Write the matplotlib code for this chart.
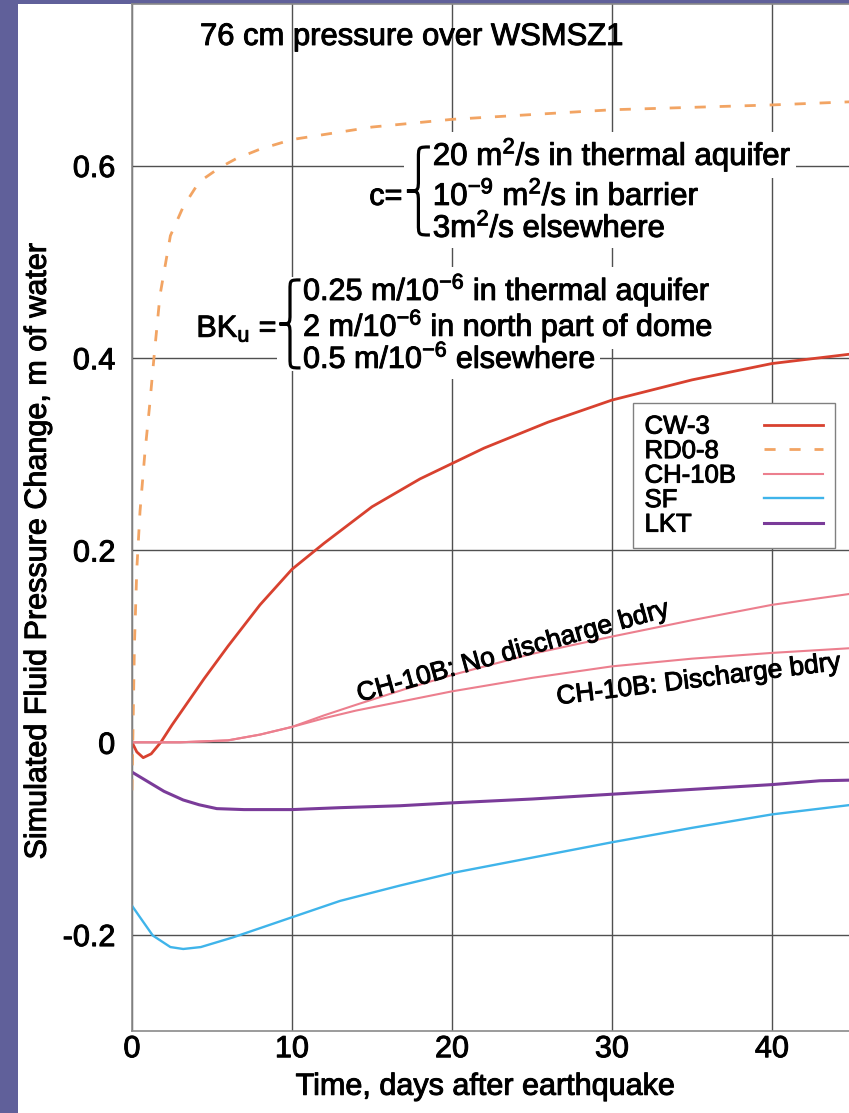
"""Simulated fluid pressure change after the earthquake, 76 cm load over WSMSZ1."""
import matplotlib.pyplot as plt
import matplotlib.patheffects as pe
from matplotlib.patches import Rectangle, PathPatch
from matplotlib.path import Path
from matplotlib.transforms import Affine2D, ScaledTranslation, IdentityTransform

# ---- curves: time (days) -> pressure change (m of water) ----
T_CW3 = [0, 0.3, 0.7, 1.2, 1.8, 2.5, 3.5, 4.5, 6, 8, 10, 12, 15, 18, 22, 26, 30, 35, 40, 46]
CW3 = [0.0, -0.010, -0.016, -0.012, 0.0, 0.018, 0.042, 0.066, 0.100, 0.143, 0.180,
       0.207, 0.245, 0.274, 0.306, 0.333, 0.356, 0.377, 0.394, 0.406]

T_RD08 = [0, 0.05, 0.15, 0.3, 0.5, 0.8, 1.1, 1.4, 1.75, 2.4, 3.2, 4.2, 5.5, 6.5, 8, 10,
          15, 20, 26, 30, 40, 46]
RD08 = [-0.05, 0.0, 0.10, 0.18, 0.24, 0.30, 0.35, 0.405, 0.465, 0.527, 0.557, 0.583,
        0.598, 0.607, 0.617, 0.627, 0.640, 0.648, 0.654, 0.658, 0.663, 0.667]

T_CH10B = [0, 3, 6, 8, 10, 12, 14, 17, 20, 25, 30, 35, 40, 46]
CH10B_NODIS = [0.0, 0.0, 0.002, 0.008, 0.016, 0.028, 0.039, 0.055, 0.070, 0.092, 0.110,
               0.127, 0.143, 0.157]
CH10B_DIS = [0.0, 0.0, 0.002, 0.008, 0.016, 0.025, 0.033, 0.043, 0.053, 0.067, 0.079,
             0.087, 0.093, 0.099]

T_SF = [0, 0.5, 1.3, 2.4, 3.2, 4.3, 6.3, 10, 13, 16.75, 20, 25, 30, 35, 40, 46]
SF = [-0.170, -0.182, -0.201, -0.213, -0.215, -0.213, -0.203, -0.182, -0.165, -0.149,
      -0.136, -0.120, -0.104, -0.089, -0.075, -0.063]

T_LKT = [0, 0.5, 1.1, 2, 3.2, 4.2, 5.3, 7, 10, 13, 16.75, 20, 25, 30, 35, 40, 43, 46]
LKT = [-0.031, -0.036, -0.042, -0.051, -0.060, -0.065, -0.069, -0.070, -0.070, -0.068,
       -0.066, -0.063, -0.059, -0.054, -0.049, -0.044, -0.040, -0.039]

XTICKS = [0, 10, 20, 30, 40]
XTICK_LABELS = ["0", "10", "20", "30", "40"]
YTICKS = [-0.2, 0, 0.2, 0.4, 0.6]
YTICK_LABELS = ["-0.2", "0", "0.2", "0.4", "0.6"]

C_BLOCK = ["20 m$^2$/s in thermal aquifer", "10$^{-9}$ m$^2$/s in barrier",
           "3m$^2$/s elsewhere"]
BK_BLOCK = ["0.25 m/10$^{-6}$ in thermal aquifer", "2 m/10$^{-6}$ in north part of dome",
            "0.5 m/10$^{-6}$ elsewhere"]

BORDER = "#60609a"
COLORS = {"CW-3": "#d8412f", "RD0-8": "#f2a463", "CH-10B": "#ec7f8e",
          "SF": "#3fb4ea", "LKT": "#7a3b99"}

plt.rcParams.update({
    "font.family": "Liberation Sans",
    "mathtext.fontset": "custom",
    "mathtext.rm": "Liberation Sans",
    "mathtext.it": "Liberation Sans:italic",
    "mathtext.bf": "Liberation Sans:bold",
    "axes.unicode_minus": False,
})

W, H, DPI = 849, 1113, 100
HEAVY = [pe.withStroke(linewidth=0.7, foreground="black")]


def brace(ax, x, y, w, h, lw=2.3):
    """Left-pointing curly brace, size in pixels, centred on data point (x, y)."""
    hw, hh = w / 2, h / 2
    verts = [(hw, hh), (0, hh), (0, hh), (0, hh - hw),
             (0, hw),
             (0, 0), (0, 0), (-hw, 0),
             (0, 0), (0, 0), (0, -hw),
             (0, -hh + hw),
             (0, -hh), (0, -hh), (hw, -hh)]
    codes = ([Path.MOVETO] + [Path.CURVE4] * 3 + [Path.LINETO] + [Path.CURVE4] * 6
             + [Path.LINETO] + [Path.CURVE4] * 3)
    tr = Affine2D() + ScaledTranslation(x, y, ax.transData)
    ax.add_patch(Rectangle((-hw - 3, -hh - 3), w + 8, h + 6, transform=tr,
                           facecolor="white", edgecolor="none", zorder=2.9))
    ax.add_patch(PathPatch(Path(verts, codes), transform=tr, facecolor="none",
                           edgecolor="black", lw=lw, zorder=3.1))


fig = plt.figure(figsize=(W / DPI, H / DPI), dpi=DPI, facecolor=BORDER)
fig.add_artist(Rectangle((18 / W, 0), 1, (H - 4) / H, transform=fig.transFigure,
                         facecolor="white", edgecolor="none", zorder=-1))
ax = fig.add_axes([132 / W, (H - 1030.7) / H, 800 / W, 1026.7 / H])
ax.set_xlim(0, 50)
ax.set_ylim(-0.3, 0.768)

ax.grid(True, color="#505050", lw=1.0)
for side in ("left", "bottom", "top"):
    ax.spines[side].set_color("#8a8a8a")
    ax.spines[side].set_linewidth(1.2)
ax.spines["right"].set_visible(False)

ax.set_xticks(XTICKS)
ax.set_xticklabels(XTICK_LABELS)
ax.set_yticks(YTICKS)
ax.set_yticklabels(YTICK_LABELS)
ax.tick_params(axis="both", length=0, labelsize=22)
ax.tick_params(axis="x", pad=2.5)
ax.tick_params(axis="y", pad=12)

# curves
ax.plot(T_CW3, CW3, color=COLORS["CW-3"], lw=2.0, label="CW-3")
ax.plot(T_RD08, RD08, color=COLORS["RD0-8"], lw=2.0, ls=(0, (4, 5)), label="RD0-8")
ax.plot(T_CH10B, CH10B_NODIS, color=COLORS["CH-10B"], lw=1.5, label="CH-10B")
ax.plot(T_CH10B, CH10B_DIS, color=COLORS["CH-10B"], lw=1.5)
ax.plot(T_SF, SF, color=COLORS["SF"], lw=1.7, label="SF")
ax.plot(T_LKT, LKT, color=COLORS["LKT"], lw=2.2, label="LKT")

ax.set_xlabel("Time, days after earthquake", fontsize=22)
ax.xaxis.set_label_coords(0.441, -0.040)
ax.set_ylabel("Simulated Fluid Pressure Change, m of water", fontsize=22)
ax.yaxis.set_label_coords(-0.099, 0.466)

# annotations; the two parameter blocks get white patches behind them (added below)
shown = [ax.text(4.25, 0.7254, "76 cm pressure over WSMSZ1", fontsize=22.3,
                 va="baseline")]
boxed = []

boxed.append(ax.text(16.9, 0.559, "c=", fontsize=22, ha="right", va="baseline"))
brace(ax, 17.9, 0.5735, 23, 88)
for yv, s in zip([0.6006, 0.559, 0.5257], C_BLOCK):
    boxed.append(ax.text(18.8, yv, s, fontsize=22.5, va="baseline"))

boxed.append(ax.text(9.06, 0.4218, r"BK$_{\mathrm{u}}$ =", fontsize=22, ha="right",
                     va="baseline"))
brace(ax, 9.875, 0.4352, 21, 88)
for yv, s in zip([0.4601, 0.4228, 0.3895], BK_BLOCK):
    boxed.append(ax.text(10.69, yv, s, fontsize=22, va="baseline"))

shown.append(ax.text(23.8, 0.0939, "CH-10B: No discharge bdry", fontsize=19,
                     rotation=15.5, rotation_mode="anchor", ha="center", va="center"))
shown.append(ax.text(35.4, 0.0648, "CH-10B: Discharge bdry", fontsize=19, rotation=7,
                     rotation_mode="anchor", ha="center", va="center"))

leg = ax.legend(loc="upper left", bbox_to_anchor=(633 / W, (H - 403) / H),
                bbox_transform=fig.transFigure, borderaxespad=0, markerfirst=False,
                fontsize=18.5, handlelength=2.3, handletextpad=1.1, labelspacing=0.02,
                borderpad=0.45, fancybox=False, framealpha=1, edgecolor="#808080")
leg.get_frame().set_linewidth(1.0)

# heavier strokes on the text, like the scanned original
for t in (shown + boxed + leg.get_texts() + ax.get_xticklabels()
          + ax.get_yticklabels() + [ax.xaxis.label, ax.yaxis.label]):
    t.set_path_effects(HEAVY)

fig.canvas.draw()
rend = fig.canvas.get_renderer()

# white patches under the parameter blocks so the grid stops at the text
for t in boxed:
    t.set_zorder(3.2)
    bb = t.get_window_extent(rend)
    ax.add_patch(Rectangle((bb.x0 - 5, bb.y0 - 4), bb.width + 10, bb.height + 8,
                           transform=IdentityTransform(), facecolor="white",
                           edgecolor="none", zorder=2.95))

# left-align the legend labels while keeping the sample lines in one column
rows = leg._legend_handle_box.get_children()[0].get_children()
widths = [r.get_children()[0].get_window_extent(rend).width for r in rows]
for r, wd in zip(rows, widths):
    r.sep += (max(widths) - wd) * 72 / DPI

fig.savefig("out.png", dpi=DPI, facecolor=BORDER)
